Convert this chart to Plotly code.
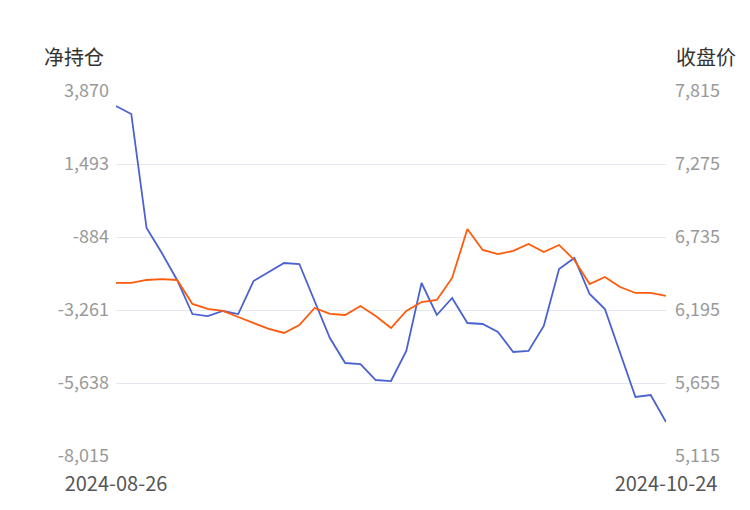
import pandas as pd
import plotly.graph_objects as go

dates = list(pd.bdate_range("2024-08-26", "2024-10-24").strftime("%Y-%m-%d"))
holidays = ["2024-09-16", "2024-09-17", "2024-10-01", "2024-10-02", "2024-10-03", "2024-10-04", "2024-10-07"]
dates = [d for d in dates if d not in holidays]

net_position = [3382, 3121, -591, -1405, -2284, -3392, -3457, -3294, -3392, -2317,
                -2024, -1731, -1763, -2968, -4173, -4987, -5020, -5541, -5574, -4596,
                -2382, -3424, -2871, -3685, -3717, -3978, -4629, -4596, -3782, -1926,
                -1568, -2740, -3229, -4661, -6094, -6029, -6908]
close_price = [6395, 6395, 6417, 6424, 6417, 6240, 6203, 6188, 6143, 6099,
               6055, 6025, 6084, 6210, 6166, 6158, 6225, 6151, 6062, 6188,
               6254, 6269, 6432, 6794, 6639, 6609, 6632, 6683, 6624, 6676,
               6565, 6387, 6439, 6365, 6321, 6321, 6299]

left_ticks = [3870, 1493, -884, -3261, -5638, -8015]
right_ticks = [7815, 7275, 6735, 6195, 5655, 5115]

font = "Noto Sans CJK SC"
x = list(range(len(dates)))

fig = go.Figure()
fig.add_trace(go.Scatter(x=x, y=net_position, mode="lines", line=dict(color="#4a62d0", width=1.8),
                         name="净持仓", yaxis="y"))
fig.add_trace(go.Scatter(x=x, y=close_price, mode="lines", line=dict(color="#ff5a0a", width=1.8),
                         name="收盘价", yaxis="y2"))

fig.update_layout(
    width=750, height=510, plot_bgcolor="white", paper_bgcolor="white",
    margin=dict(l=108, r=92, t=83, b=62, autoexpand=False), showlegend=False,
    font=dict(family=font, size=18, color="#999999"),
    xaxis=dict(range=[0, len(dates) - 1], tickvals=[0, len(dates) - 1],
               ticktext=[dates[0], dates[-1]], showgrid=False, zeroline=False,
               tickfont=dict(color="#555555", size=20), ticks="", showline=False,
               ticklabelstandoff=14),
    yaxis=dict(range=[left_ticks[-1], left_ticks[0]], tickvals=left_ticks,
               ticktext=[f"{v:,}" for v in left_ticks],
               gridcolor="#e3e7ef", zeroline=False, ticklabelstandoff=6),
    yaxis2=dict(range=[right_ticks[-1], right_ticks[0]], tickvals=right_ticks,
                ticktext=[f"{v:,}" for v in right_ticks],
                overlaying="y", side="right", showgrid=False, zeroline=False, ticklabelstandoff=8),
)
for txt, px_x in [("净持仓", 66), ("收盘价", 698)]:
    fig.add_annotation(text=txt, x=(px_x - 108) / 550, y=1 + (83 - 48) / 365,
                       xref="paper", yref="paper", showarrow=False,
                       font=dict(size=20, color="#333333"), xanchor="center", yanchor="middle")

fig.write_html("out.html")
